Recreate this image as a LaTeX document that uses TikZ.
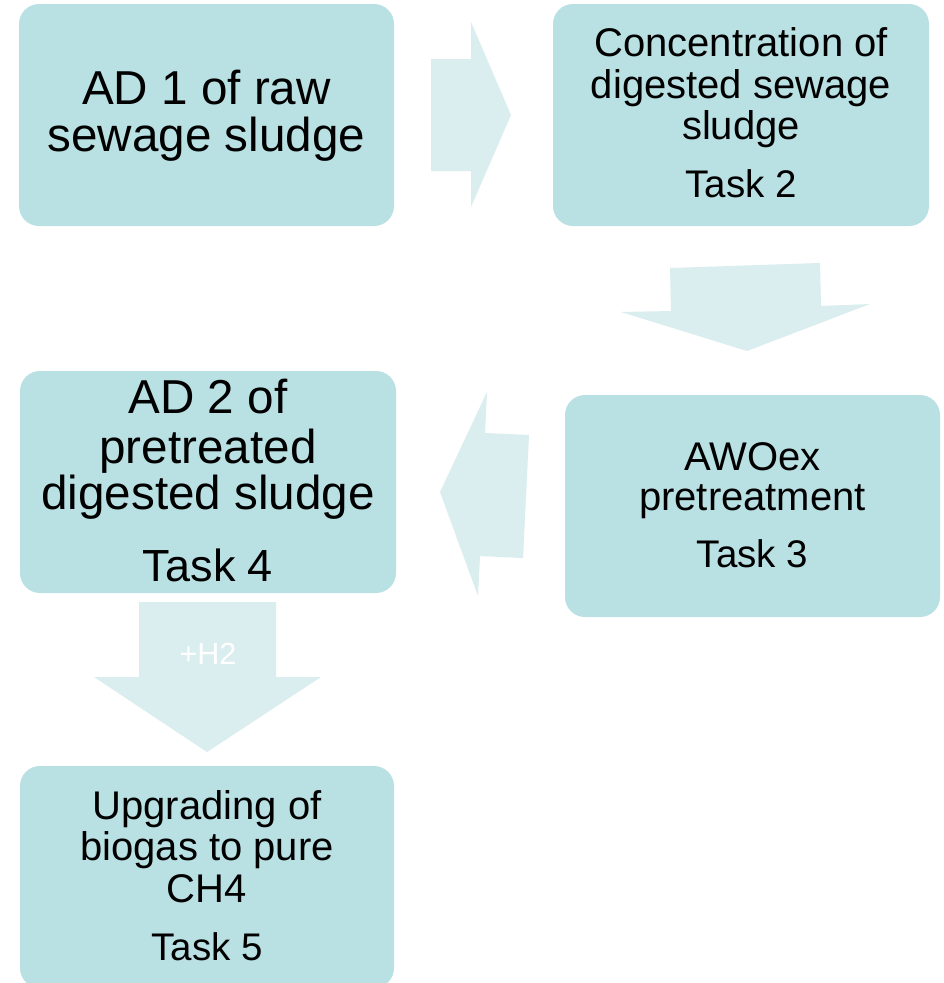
\documentclass[tikz,border=0pt]{standalone}
\usepackage{fontspec}
\setmainfont{Liberation Sans}
\definecolor{boxfill}{HTML}{B9E0E3}
\definecolor{arrowfill}{HTML}{DAEDEF}
\newcommand{\fsBig}{\fontsize{47.6}{47.6}\selectfont}
\newcommand{\fsMid}{\fontsize{40}{40}\selectfont}
\newcommand{\fsTask}{\fontsize{38.5}{38.5}\selectfont}
\newcommand{\fsTaskBig}{\fontsize{45}{45}\selectfont}
\begin{document}
\begin{tikzpicture}[x=1pt,y=-1pt,
  box/.style={fill=boxfill, draw=none, rounded corners=20pt, inner sep=0pt},
  txt/.style={anchor=base, inner sep=0pt, text=black},
  blockarrow/.style={fill=arrowfill, draw=none}]
\useasboundingbox (0,0) rectangle (943,983);
\fill[white] (0,0) rectangle (943,983);

% block arrows
\fill[blockarrow] (431,59) -- (471,59) -- (471,22) -- (511,115) -- (471,207) -- (471,171) -- (431,171) -- cycle;
\fill[blockarrow] (670,268) -- (820,263) -- (821,306) -- (870,304) -- (747,351) -- (621,312) -- (671,311) -- cycle;
\fill[blockarrow] (529,435) -- (485,433) -- (487,392) -- (440,492) -- (478,596) -- (480,556) -- (523,558) -- cycle;
\fill[blockarrow] (139,602) -- (276,602) -- (276,677) -- (321,677) -- (207,752) -- (94,677) -- (139,677) -- cycle;
\node[txt, text=white, font=\fontsize{30.6}{30.6}\selectfont] (h2) at (208,664) {+H2};

% boxes
\node[box, minimum width=375pt, minimum height=222pt] (box1) at (206.5,115) {};
\node[box, minimum width=376pt, minimum height=222pt] (box2) at (741,115) {};
\node[box, minimum width=375pt, minimum height=222pt] (box3) at (752.5,506) {};
\node[box, minimum width=376pt, minimum height=222pt] (box4) at (208,482) {};
\node[box, minimum width=374pt, minimum height=222pt] (box5) at (207,877) {};

% box 1
\node[txt, font=\fsBig] (t1a) at (206.5,104) {AD 1 of raw};
\node[txt, font=\fsBig] (t1b) at (206.5,151) {sewage sludge};
% box 2
\node[txt, font=\fsMid] (t2a) at (741,56) {Concentration of};
\node[txt, font=\fsMid] (t2b) at (741,98) {digested sewage};
\node[txt, font=\fsMid] (t2c) at (741,139) {sludge};
\node[txt, font=\fsTask] (t2d) at (741,197) {Task 2};
% box 3
\node[txt, font=\fsMid] (t3a) at (752.5,470) {AWOex};
\node[txt, font=\fsMid] (t3b) at (752.5,510) {pretreatment};
\node[txt, font=\fsTask] (t3c) at (752.5,567) {Task 3};
% box 4
\node[txt, font=\fsBig] (t4a) at (208,413) {AD 2 of};
\node[txt, font=\fsBig] (t4b) at (208,463) {pretreated};
\node[txt, font=\fsBig] (t4c) at (208,509) {digested sludge};
\node[txt, font=\fsTaskBig] (t4d) at (208,581) {Task 4};
% box 5
\node[txt, font=\fsMid] (t5a) at (207,819) {Upgrading of};
\node[txt, font=\fsMid] (t5b) at (207,860) {biogas to pure};
\node[txt, font=\fsMid] (t5c) at (207,902) {CH4};
\node[txt, font=\fsTask] (t5d) at (207,960) {Task 5};
\end{tikzpicture}
\end{document}
